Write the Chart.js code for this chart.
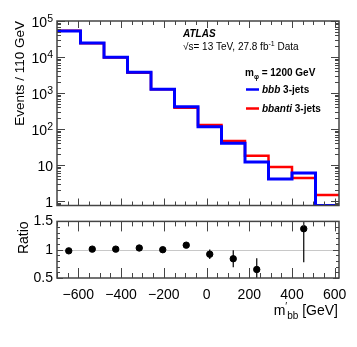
<!DOCTYPE html>
<html>
<head>
<meta charset="utf-8">
<script src="https://cdn.jsdelivr.net/npm/chart.js@4.4.0/dist/chart.umd.min.js"></script>
<style>
  html, body { margin: 0; padding: 0; background: #fff; }
  #wrap { position: relative; width: 357px; height: 347px; }
  #top { position: absolute; left: 0; top: 0; }
  #bot { position: absolute; left: 0; top: 209px; }
</style>
</head>
<body>
<div id="wrap">
  <canvas id="top" width="357" height="209"></canvas>
  <canvas id="bot" width="357" height="138"></canvas>
</div>
<script>
// bin edges of m'bb, 110 GeV wide
var edges = [-700, -590, -480, -370, -260, -150, -40, 70, 180, 290, 400, 510, 620];
// events per bin
var bbb3 = [52700, 24500, 9860, 3780, 1270, 417, 116, 40, 12.1, 4.1, 6.0, 0];
var bbanti3 = [53800, 24260, 9760, 3670, 1270, 390, 129, 46.4, 18.2, 8.8, 4.35, 1.47];
// ratio panel
var ratioX = [-645, -535, -425, -315, -205, -95, 15, 125, 235, 345, 455, 565];
var ratio = [0.98, 1.01, 1.01, 1.03, 1.00, 1.08, 0.92, 0.84, 0.65, null, 1.37, null];
var ratioErr = [0.01, 0.01, 0.01, 0.012, 0.015, 0.03, 0.085, 0.15, 0.2, null, 0.59, null];
// axis ticks
var xTicks = [-600, -400, -200, 0, 200, 400, 600];
var yTicks = [1, 10, 100, 1000, 10000, 100000];
var rTicks = [0.5, 1, 1.5];

var X_MIN = -700, X_MAX = 620, Y_MIN = 0.75, Y_MAX = 1e5;
var FONT = "'Liberation Sans', Arial, Helvetica, sans-serif";
Chart.defaults.font.family = FONT;
Chart.defaults.color = '#000';

function steps(vals) {
  var pts = [];
  for (var i = 0; i < vals.length; i++) {
    pts.push({x: edges[i], y: vals[i] > 0 ? vals[i] : Y_MIN});
  }
  pts.push({x: edges[edges.length - 1], y: vals[vals.length - 1] > 0 ? vals[vals.length - 1] : Y_MIN});
  return pts;
}

// text made of pieces in different fonts / offsets
function drawRuns(ctx, x, y, runs) {
  runs.forEach(function(r) {
    ctx.font = r.font;
    ctx.fillText(r.t, x, y + (r.dy || 0));
    x += ctx.measureText(r.t).width;
  });
  return x;
}
function runsWidth(ctx, runs) {
  var w = 0;
  runs.forEach(function(r) { ctx.font = r.font; w += ctx.measureText(r.t).width; });
  return w;
}

// ROOT-like frame with inward ticks on all four sides
function frameTicks(o) {
  return {
    id: 'frameTicks',
    afterDraw: function(chart) {
      var ctx = chart.ctx, a = chart.chartArea, xs = chart.scales.x, ys = chart.scales.y;
      ctx.save();
      ctx.strokeStyle = '#444';
      ctx.lineWidth = 1;
      ctx.beginPath();
      for (var v = Math.ceil(X_MIN / 50) * 50; v <= X_MAX; v += 50) {
        var px = Math.round(xs.getPixelForValue(v)) + 0.5;
        var len = (v % 200 === 0) ? o.xMajor : o.xMinor;
        ctx.moveTo(px, a.bottom); ctx.lineTo(px, a.bottom - len);
        ctx.moveTo(px, a.top); ctx.lineTo(px, a.top + len);
      }
      o.yList(ys).forEach(function(t) {
        var py = Math.round(ys.getPixelForValue(t.v)) + 0.5;
        var len = t.major ? o.yMajor : o.yMinor;
        ctx.moveTo(a.left, py); ctx.lineTo(a.left + len, py);
        ctx.moveTo(a.right, py); ctx.lineTo(a.right - len, py);
      });
      ctx.stroke();
      ctx.lineWidth = 1.5;
      ctx.strokeRect(a.left, a.top, a.right - a.left, a.bottom - a.top);
      ctx.restore();
    }
  };
}

// ---------------- top panel ----------------
var topLabels = {
  id: 'topLabels',
  afterDraw: function(chart) {
    var ctx = chart.ctx, ys = chart.scales.y;
    ctx.save();
    ctx.fillStyle = '#000';
    ctx.textBaseline = 'alphabetic';
    // 10^n labels
    yTicks.forEach(function(v) {
      var py = ys.getPixelForValue(v);
      var e = Math.round(Math.log10(v));
      var runs = e === 0 ? [{t: '1', font: '14px ' + FONT}] :
                 e === 1 ? [{t: '10', font: '14px ' + FONT}] :
                 [{t: '10', font: '14px ' + FONT}, {t: String(e), font: '10.5px ' + FONT, dy: -5}];
      var w = runsWidth(ctx, runs);
      drawRuns(ctx, 53 - w, py + 5.5, runs);
    });
    // ATLAS label block
    drawRuns(ctx, 183, 37, [{t: 'ATLAS', font: 'italic bold 10px ' + FONT}]);
    drawRuns(ctx, 183, 50, [
      {t: '\u221As= 13 TeV, 27.8 fb', font: '10px ' + FONT},
      {t: '-1', font: '7px ' + FONT, dy: -4},
      {t: ' Data', font: '10px ' + FONT}
    ]);
    drawRuns(ctx, 245, 76, [
      {t: 'm', font: 'bold 10px ' + FONT},
      {t: '\u03C6', font: 'bold 7px ' + FONT, dy: 2.5},
      {t: ' = 1200 GeV', font: 'bold 10px ' + FONT}
    ]);
    // legend entries
    ctx.lineWidth = 2.5;
    ctx.strokeStyle = '#0000ff';
    ctx.beginPath(); ctx.moveTo(246, 89.5); ctx.lineTo(259, 89.5); ctx.stroke();
    ctx.strokeStyle = '#ff0000';
    ctx.beginPath(); ctx.moveTo(246, 108.5); ctx.lineTo(259, 108.5); ctx.stroke();
    drawRuns(ctx, 262, 93, [
      {t: 'bbb', font: 'italic bold 10px ' + FONT},
      {t: ' 3-jets', font: 'bold 10px ' + FONT}
    ]);
    drawRuns(ctx, 262, 112, [
      {t: 'bbanti', font: 'italic bold 10px ' + FONT},
      {t: ' 3-jets', font: 'bold 10px ' + FONT}
    ]);
    ctx.restore();
  }
};

new Chart(document.getElementById('top'), {
  type: 'line',
  data: {
    datasets: [
      {label: 'bbb 3-jets', data: steps(bbb3), stepped: 'before', borderColor: '#0000ff', borderWidth: 3, pointRadius: 0, fill: false},
      {label: 'bbanti 3-jets', data: steps(bbanti3), stepped: 'before', borderColor: '#ff0000', borderWidth: 2.5, pointRadius: 0, fill: false}
    ]
  },
  options: {
    responsive: false,
    animation: false,
    events: [],
    layout: {padding: {top: 21, right: 18, bottom: 3.5, left: 0}},
    plugins: {legend: {display: false}, tooltip: {enabled: false}},
    scales: {
      x: {type: 'linear', min: X_MIN, max: X_MAX, display: false},
      y: {
        type: 'logarithmic', min: Y_MIN, max: Y_MAX,
        grid: {display: false, drawTicks: false},
        border: {display: false},
        ticks: {display: false},
        title: {display: true, text: 'Events / 110 GeV', align: 'end', font: {size: 13.5}, padding: {top: 12, bottom: 0}},
        afterFit: function(s) { s.width = 57; }
      }
    }
  },
  plugins: [topLabels, frameTicks({
    xMajor: 7, xMinor: 4, yMajor: 8, yMinor: 4,
    yList: function(ys) {
      var out = [];
      for (var k = -1; k <= 5; k++) {
        for (var m = 1; m <= 9; m++) {
          var v = m * Math.pow(10, k);
          if (v >= Y_MIN && v <= Y_MAX) out.push({v: v, major: m === 1});
        }
      }
      return out;
    }
  })]
});

// ---------------- ratio panel ----------------
var ratioExtras = {
  id: 'ratioExtras',
  beforeDatasetsDraw: function(chart) {
    var ctx = chart.ctx, a = chart.chartArea, ys = chart.scales.y, xs = chart.scales.x;
    ctx.save();
    ctx.strokeStyle = '#c8c8c8';
    ctx.lineWidth = 1;
    var py = Math.round(ys.getPixelForValue(1)) + 0.5;
    ctx.beginPath(); ctx.moveTo(a.left, py); ctx.lineTo(a.right, py); ctx.stroke();
    // error bars
    ctx.beginPath();
    ctx.rect(a.left, a.top, a.right - a.left, a.bottom - a.top);
    ctx.clip();
    ctx.strokeStyle = '#000';
    ctx.lineWidth = 1.2;
    ctx.beginPath();
    for (var i = 0; i < ratio.length; i++) {
      if (ratio[i] === null || !ratioErr[i]) continue;
      var px = xs.getPixelForValue(ratioX[i]);
      ctx.moveTo(px, ys.getPixelForValue(ratio[i] + ratioErr[i]));
      ctx.lineTo(px, ys.getPixelForValue(ratio[i] - ratioErr[i]));
    }
    ctx.stroke();
    ctx.restore();
  },
  afterDraw: function(chart) {
    var ctx = chart.ctx;
    ctx.save();
    ctx.fillStyle = '#000';
    var runs = [
      {t: 'm', font: '14px ' + FONT},
      {t: '\u2032', font: '10px ' + FONT, dy: -5},
      {t: 'bb', font: '10px ' + FONT, dy: 3.5},
      {t: ' [GeV]', font: '14px ' + FONT}
    ];
    drawRuns(ctx, 338 - runsWidth(ctx, runs), 106, runs);
    ctx.restore();
  }
};

new Chart(document.getElementById('bot'), {
  type: 'scatter',
  data: {
    datasets: [{
      label: 'Ratio',
      data: ratioX.map(function(x, i) { return {x: x, y: ratio[i]}; }),
      pointRadius: 3.2, pointBackgroundColor: '#000', pointBorderColor: '#000', showLine: false
    }]
  },
  options: {
    responsive: false,
    animation: false,
    events: [],
    layout: {padding: {top: 5, right: 18, bottom: 0, left: 0}},
    plugins: {legend: {display: false}, tooltip: {enabled: false}},
    scales: {
      x: {
        type: 'linear', min: X_MIN, max: X_MAX,
        grid: {display: false, drawTicks: false},
        border: {display: false},
        afterBuildTicks: function(s) { s.ticks = xTicks.map(function(v) { return {value: v}; }); },
        ticks: {
          padding: 9, maxRotation: 0, autoSkip: false, font: {size: 14},
          callback: function(v) { return v < 0 ? '\u2212' + Math.abs(v) : String(v); }
        },
        afterFit: function(s) { s.height = 69; }
      },
      y: {
        type: 'linear', min: 0.5, max: 1.5,
        grid: {display: false, drawTicks: false},
        border: {display: false},
        afterBuildTicks: function(s) { s.ticks = rTicks.map(function(v) { return {value: v}; }); },
        ticks: {padding: 4, font: {size: 14}, callback: function(v) { return String(v); }},
        title: {display: true, text: 'Ratio', align: 'end', font: {size: 14}, padding: {top: 16, bottom: 0}},
        afterFit: function(s) { s.width = 57; }
      }
    }
  },
  plugins: [ratioExtras, frameTicks({
    xMajor: 10, xMinor: 5, yMajor: 6, yMinor: 3,
    yList: function(ys) {
      var out = [];
      for (var k = 5; k <= 15; k++) out.push({v: k / 10, major: k % 5 === 0});
      return out;
    }
  })]
});
</script>
</body>
</html>
